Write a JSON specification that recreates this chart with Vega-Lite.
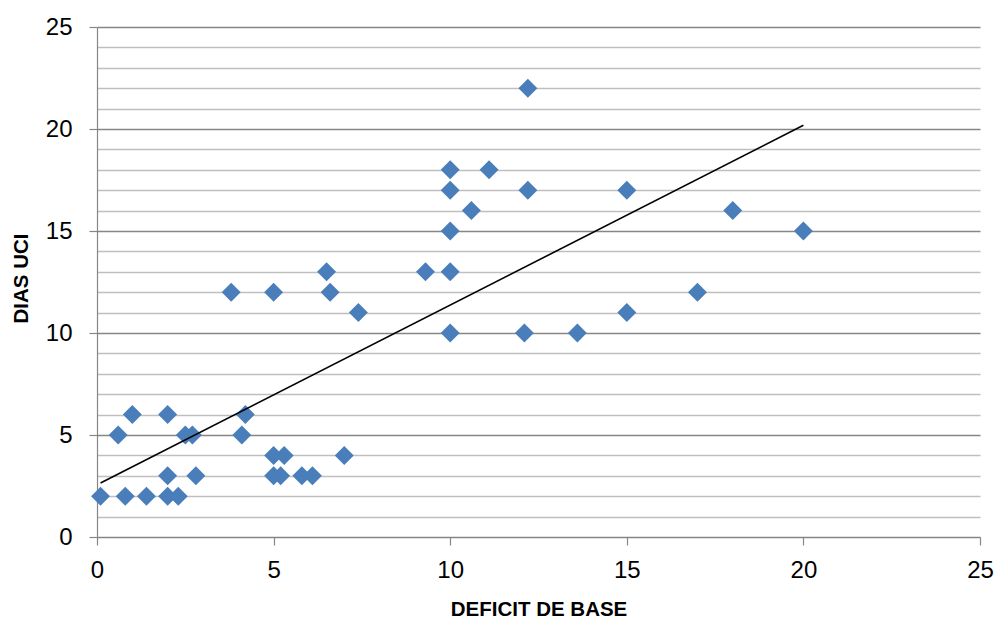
{
  "$schema": "https://vega.github.io/schema/vega-lite/v6.json",
  "width": 883,
  "height": 510,
  "autosize": {"type": "none"},
  "padding": {"left": 97, "top": 27, "right": 15, "bottom": 83},
  "background": "white",
  "config": {
    "view": {"stroke": null},
    "font": "Liberation Sans"
  },
  "datasets": {
    "points": [
      {"deficit": 0.1, "dias": 2},
      {"deficit": 0.6, "dias": 5},
      {"deficit": 1.0, "dias": 6},
      {"deficit": 0.8, "dias": 2},
      {"deficit": 1.4, "dias": 2},
      {"deficit": 2.0, "dias": 6},
      {"deficit": 2.0, "dias": 3},
      {"deficit": 2.0, "dias": 2},
      {"deficit": 2.3, "dias": 2},
      {"deficit": 2.5, "dias": 5},
      {"deficit": 2.7, "dias": 5},
      {"deficit": 2.8, "dias": 3},
      {"deficit": 3.8, "dias": 12},
      {"deficit": 4.2, "dias": 6},
      {"deficit": 4.1, "dias": 5},
      {"deficit": 5.0, "dias": 12},
      {"deficit": 5.0, "dias": 4},
      {"deficit": 5.3, "dias": 4},
      {"deficit": 5.0, "dias": 3},
      {"deficit": 5.2, "dias": 3},
      {"deficit": 5.8, "dias": 3},
      {"deficit": 6.1, "dias": 3},
      {"deficit": 6.5, "dias": 13},
      {"deficit": 6.6, "dias": 12},
      {"deficit": 7.0, "dias": 4},
      {"deficit": 7.4, "dias": 11},
      {"deficit": 9.3, "dias": 13},
      {"deficit": 10.0, "dias": 18},
      {"deficit": 10.0, "dias": 17},
      {"deficit": 10.0, "dias": 15},
      {"deficit": 10.0, "dias": 13},
      {"deficit": 10.0, "dias": 10},
      {"deficit": 10.6, "dias": 16},
      {"deficit": 11.1, "dias": 18},
      {"deficit": 12.2, "dias": 22},
      {"deficit": 12.2, "dias": 17},
      {"deficit": 12.1, "dias": 10},
      {"deficit": 13.6, "dias": 10},
      {"deficit": 15.0, "dias": 17},
      {"deficit": 15.0, "dias": 11},
      {"deficit": 17.0, "dias": 12},
      {"deficit": 18.0, "dias": 16},
      {"deficit": 20.0, "dias": 15}
    ],
    "trend": [
      {"deficit": 0.1, "dias": 2.65},
      {"deficit": 20.0, "dias": 20.18}
    ]
  },
  "encoding": {
    "x": {
      "field": "deficit",
      "type": "quantitative",
      "scale": {"domain": [0, 25], "nice": false, "zero": true},
      "axis": {
        "title": "DEFICIT DE BASE",
        "values": [0, 5, 10, 15, 20, 25],
        "grid": false,
        "domainColor": "#868686",
        "domainWidth": 1.2,
        "tickColor": "#868686",
        "tickSize": 8,
        "tickWidth": 1.2,
        "labelFontSize": 24,
        "labelColor": "#000000",
        "labelPadding": 13,
        "labelFlush": false,
        "labelOverlap": false,
        "titleFontSize": 20.5,
        "titleFontWeight": "bold",
        "titleColor": "#000000",
        "titlePadding": 17
      }
    },
    "y": {
      "field": "dias",
      "type": "quantitative",
      "scale": {"domain": [0, 25], "nice": false, "zero": true},
      "axis": {
        "title": "DIAS UCI",
        "values": [0, 1, 2, 3, 4, 5, 6, 7, 8, 9, 10, 11, 12, 13, 14, 15, 16, 17, 18, 19, 20, 21, 22, 23, 24, 25],
        "labelExpr": "datum.value % 5 === 0 ? datum.label : ''",
        "labelOverlap": false,
        "grid": true,
        "gridColor": {"condition": {"test": "datum.value % 5 === 0", "value": "#868686"}, "value": "#BFBFBF"},
        "gridWidth": 1.5,
        "domainColor": "#868686",
        "domainWidth": 1.2,
        "tickColor": "#868686",
        "tickOpacity": {"condition": {"test": "datum.value % 5 === 0", "value": 1}, "value": 0},
        "tickSize": 8,
        "tickWidth": 1.2,
        "labelFontSize": 24,
        "labelColor": "#000000",
        "labelPadding": 17,
        "labelFlush": false,
        "titleFontSize": 20.5,
        "titleFontWeight": "bold",
        "titleColor": "#000000",
        "titlePadding": 14,
        "titleY": 251
      }
    }
  },
  "layer": [
    {
      "data": {"name": "points"},
      "mark": {"type": "point", "shape": "diamond", "filled": true, "size": 360, "color": "#4A7EBB", "opacity": 1}
    },
    {
      "data": {"name": "trend"},
      "mark": {"type": "line", "color": "#000000", "strokeWidth": 1.6}
    }
  ]
}
